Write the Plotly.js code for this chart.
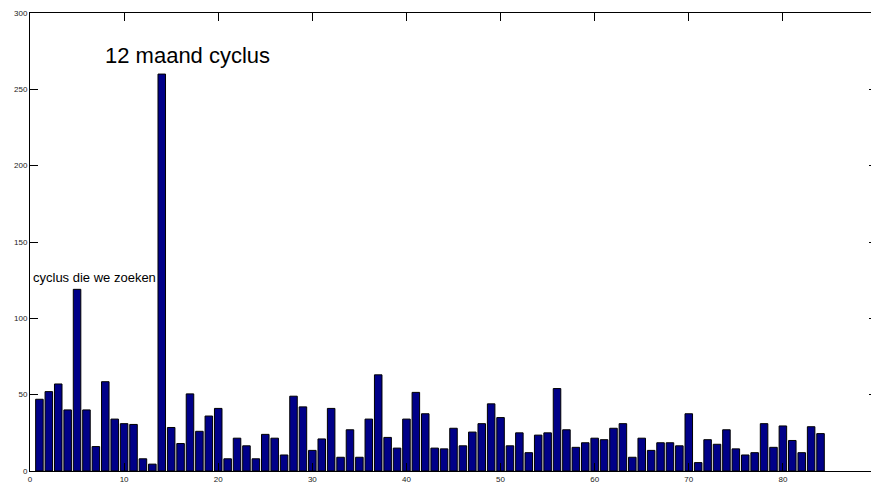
<!DOCTYPE html>
<html>
<head>
<meta charset="utf-8">
<script src="https://cdn.plot.ly/plotly-3.0.1.min.js"></script>
<style>
html,body{margin:0;padding:0;overflow:hidden;background:#fff;}
#chart{width:880px;height:483px;}
</style>
</head>
<body>
<div id="chart"></div>
<script>
// Data
var months = [];
for (var i = 1; i <= 84; i++) months.push(i);
var values = [
  47, 52, 57, 40, 119, 40, 16, 58.5, 34, 31,
  30.5, 8, 4.5, 260, 28.5, 18, 50.5, 26, 36, 41,
  8, 21.5, 16.5, 8, 24, 21.5, 10.5, 49, 42, 13.5,
  21, 41, 9, 27, 9, 34, 63, 22, 15, 34,
  51.5, 37.5, 15, 14.5, 28, 16.5, 25.5, 31, 44, 35,
  16.5, 25, 12, 23.5, 25, 54, 27, 15.5, 18.5, 21.5,
  20.5, 28, 31, 9, 21.5, 13.5, 18.5, 18.5, 16.5, 37.5,
  5.5, 20.5, 17.5, 27, 14.5, 10.5, 12, 31, 15.5, 29.5,
  20, 12, 29, 24.5
];
var xTicks = [0, 10, 20, 30, 40, 50, 60, 70, 80, 90];
var yTicks = [0, 50, 100, 150, 200, 250, 300];
var labelMain = "12 maand cyclus";
var labelSearch = "cyclus die we zoeken";

var trace = {
  type: 'bar',
  x: months,
  y: values,
  width: 0.8,
  marker: {color: '#000088', line: {color: '#000000', width: 1}},
  hoverinfo: 'x+y'
};

var axisCommon = {
  showline: true, linecolor: '#000', linewidth: 1,
  ticks: 'inside', ticklen: 8, tickcolor: '#000', tickwidth: 1,
  mirror: 'allticks', showgrid: false, zeroline: false,
  tickfont: {family: 'Liberation Sans, Arial, sans-serif', size: 8, color: '#222'}
};

var layout = {
  width: 880, height: 483,
  margin: {l: 30, r: 3, t: 13, b: 12},
  paper_bgcolor: '#fff', plot_bgcolor: '#fff',
  showlegend: false,
  bargap: 0,
  xaxis: Object.assign({}, axisCommon, {
    range: [0, 90], tickmode: 'array', tickvals: xTicks, ticktext: xTicks.map(String)
  }),
  yaxis: Object.assign({}, axisCommon, {
    range: [0, 300], tickmode: 'array', tickvals: yTicks, ticktext: yTicks.map(String)
  }),
  annotations: [
    {x: 7.8, y: 272, xref: 'x', yref: 'y', text: labelMain, showarrow: false,
     xanchor: 'left', yanchor: 'middle',
     font: {family: 'Liberation Sans, Arial, sans-serif', size: 22, color: '#000'}},
    {x: 0.1, y: 127, xref: 'x', yref: 'y', text: labelSearch, showarrow: false,
     xanchor: 'left', yanchor: 'middle',
     font: {family: 'Liberation Sans, Arial, sans-serif', size: 13, color: '#000'}}
  ]
};

Plotly.newPlot('chart', [trace], layout, {displayModeBar: false, staticPlot: true});
</script>
</body>
</html>
